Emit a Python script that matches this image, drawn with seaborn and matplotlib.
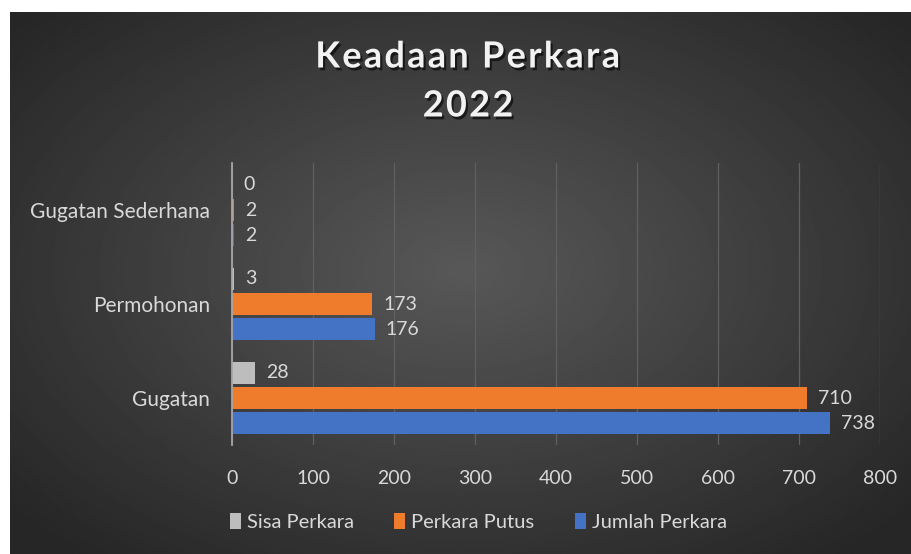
import numpy as np
import pandas as pd
import matplotlib
import matplotlib.pyplot as plt
import matplotlib.patheffects as pe
import seaborn as sns

matplotlib.use('Agg')

# data
categories = ['Gugatan Sederhana', 'Permohonan', 'Gugatan']
sisa_perkara = [0, 3, 28]
perkara_putus = [2, 173, 710]
jumlah_perkara = [2, 176, 738]
series_names = ['Sisa Perkara', 'Perkara Putus', 'Jumlah Perkara']
series_colors = ['#bdbdbd', '#ef7b2c', '#4472c4']
x_ticks = [0, 100, 200, 300, 400, 500, 600, 700, 800]
title_lines = ['Keadaan Perkara', '2022']

sns.set_theme(style='white')
plt.rcParams['font.family'] = ['Lato', 'DejaVu Sans']

rows = []
for i, cat in enumerate(categories):
    rows.append([cat, series_names[0], sisa_perkara[i]])
    rows.append([cat, series_names[1], perkara_putus[i]])
    rows.append([cat, series_names[2], jumlah_perkara[i]])
data = pd.DataFrame(rows, columns=['kategori', 'seri', 'jumlah'])

fig = plt.figure(figsize=(9.12, 5.54), dpi=100)
fig.patch.set_facecolor('white')

# dark radial gradient panel
bg = fig.add_axes([10 / 912, 0, 902 / 912, 542 / 554])
yy, xx = np.mgrid[-1:1:300j, -1:1:500j]
r = np.sqrt((xx / 1.15) ** 2 + ((yy + 0.05) / 1.2) ** 2)
shade = np.clip(0.345 - 0.17 * r, 0.15, 0.345)
bg.imshow(shade, cmap='gray', vmin=0, vmax=1, aspect='auto', extent=[0, 1, 0, 1])
bg.set_axis_off()

ax = fig.add_axes([232 / 912, 109 / 554, 648 / 912, 282 / 554])
ax.set_facecolor('none')
sns.barplot(data=data, y='kategori', x='jumlah', hue='seri', hue_order=series_names,
            order=categories, palette=series_colors, orient='h', width=0.8,
            gap=0.1, saturation=1, linewidth=0, ax=ax, legend=True)

for cont in ax.containers:
    ax.bar_label(cont, padding=8, color='#d9d9d9', fontsize=14)

ax.set_xlim(0, 800)
ax.set_xticks(x_ticks)
ax.set_xticklabels([str(t) for t in x_ticks], color='#d9d9d9', fontsize=14)
ax.tick_params(axis='x', pad=18, length=0)
ax.tick_params(axis='y', pad=16, length=0, labelcolor='#d9d9d9', labelsize=15)
ax.set_xlabel('')
ax.set_ylabel('')
ax.grid(axis='x', color='#606060', linewidth=0.9)
ax.set_axisbelow(True)
for side in ['top', 'right', 'bottom']:
    ax.spines[side].set_visible(False)
ax.spines['left'].set_color('#a6a6a6')
ax.spines['left'].set_linewidth(1.3)

leg = ax.legend(loc='center', bbox_to_anchor=(0.38, -0.273), ncol=3,
                frameon=False, fontsize=14.5, handlelength=0.55, handleheight=0.8,
                handletextpad=0.3, columnspacing=2.0)
for t in leg.get_texts():
    t.set_color('#d9d9d9')

# title with slight letter spacing (hair spaces)
shadow = [pe.withSimplePatchShadow(offset=(1.5, -2), shadow_rgbFace='black', alpha=0.6)]
fig.text(0.513, 1 - 57 / 554, '\u200a'.join(title_lines[0]), ha='center', va='center',
         fontsize=26, fontweight='bold', color='#f2f2f2', path_effects=shadow)
fig.text(0.513, 1 - 106 / 554, '\u200a'.join(title_lines[1]), ha='center', va='center',
         fontsize=26, fontweight='bold', color='#f2f2f2', path_effects=shadow)

plt.savefig('out.png', dpi=100)
plt.close()
